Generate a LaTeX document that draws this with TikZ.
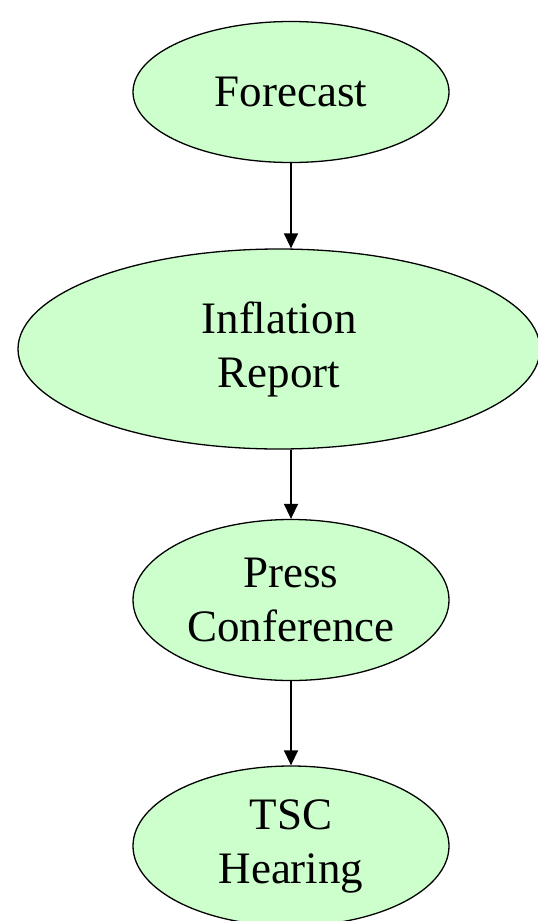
\documentclass[tikz,border=0pt]{standalone}
\usepackage{fontspec}
\setmainfont{Liberation Serif}
\usetikzlibrary{shapes.geometric,arrows.meta}
\definecolor{nodegreen}{HTML}{CCFFCC}
\begin{document}
\begin{tikzpicture}[x=1pt,y=-1pt,
  bubble/.style={ellipse, draw=black, line width=1.3pt, fill=nodegreen, inner sep=0pt,
    align=center, font=\fontsize{45}{54}\selectfont},
  flow/.style={draw=black, line width=1.5pt, -{Triangle[length=15pt,width=14pt]}}]
\useasboundingbox[fill=white] (0,0) rectangle (538,921);
\node[bubble, minimum width=316pt, minimum height=141pt] (fc) at (291,92) {Forecast};
\node[bubble, minimum width=522pt, minimum height=200pt] (ir) at (279,349) {Inflation\\Report};
\node[bubble, minimum width=316pt, minimum height=161pt] (pc) at (291,600) {Press\\Conference};
\node[bubble, minimum width=316pt, minimum height=160pt] (tsc) at (291,846) {TSC\\Hearing};
\draw[flow] (fc.south) -- (fc.south |- ir.north);
\draw[flow] (pc.north |- ir.south) -- (pc.north);
\draw[flow] (pc.south) -- (tsc.north);
\end{tikzpicture}
\end{document}
